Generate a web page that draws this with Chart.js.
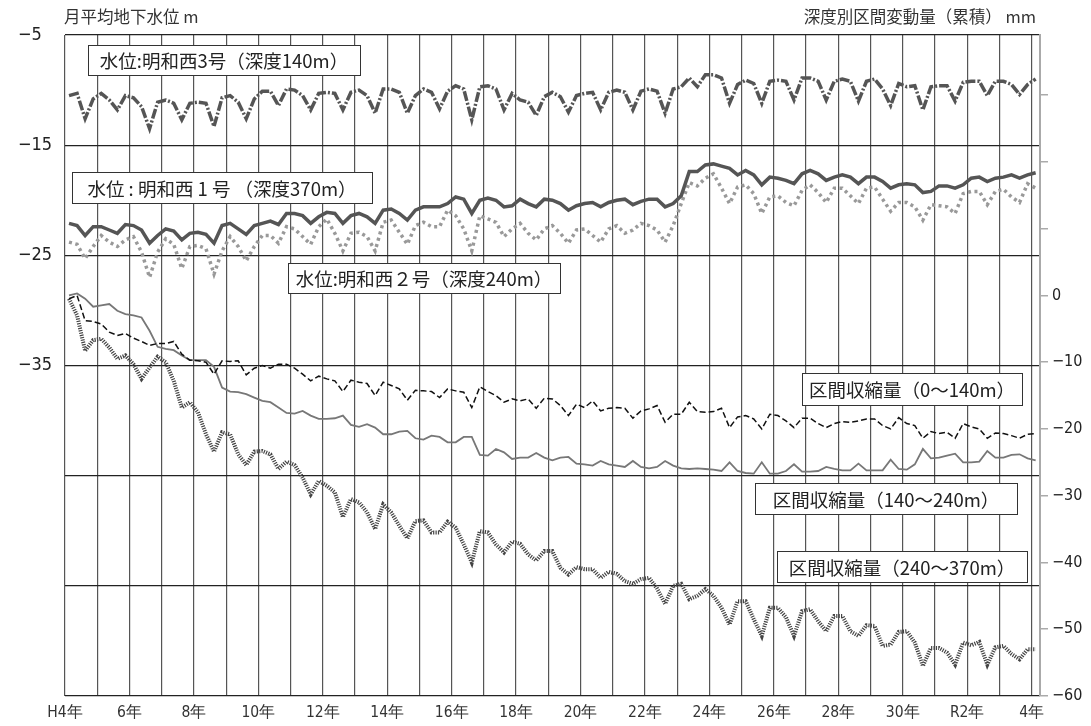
<!DOCTYPE html>
<html>
<head>
<meta charset="utf-8">
<script src="https://cdn.jsdelivr.net/npm/chart.js@4.4.0/dist/chart.umd.min.js"></script>
<style>
  html, body { margin: 0; padding: 0; background: #fff; }
  #chartCanvas { display: block; }
</style>
</head>
<body>
<canvas id="chartCanvas" width="1091" height="726"></canvas>
<script>
// --- Data ---

// quarterly readings, mid-quarter, H4 (1992) .. R4 (2022) start
const times = [];
for (let i = 0; i < 121; i++) times.push(1992.125 + 0.25 * i);

// 水位 明和西3号 (m)
const meiwa3 = [
  -10.5, -10.3, -12.6, -10.8,  -10.3, -10.9, -11.8, -10.5,  -10.7, -11.5, -13.5, -11.1,
  -10.9, -11.2, -12.7, -11.2,  -11.1, -11.2, -13.3, -10.7,  -10.5, -11.1, -12.6, -10.8,
  -10.1, -10.1, -11.4, -9.9,   -10.0, -10.5, -11.8, -10.3,  -10.2, -10.3, -11.8, -10.2,
  -10.0, -10.5, -12.1, -9.9,   -9.9, -10.2, -12.1, -10.5,   -9.9, -10.2, -11.7, -10.1,
  -9.6, -9.9, -12.7, -9.7,     -9.6, -9.9, -11.8, -10.3,    -10.9, -11.1, -12.3, -10.6,
  -10.2, -10.6, -12.0, -10.5,  -10.3, -10.2, -11.8, -10.2,  -10.0, -10.2, -11.8, -10.1,
  -9.9, -10.1, -12.1, -9.9,    -9.7, -8.9, -9.7, -8.6,      -8.6, -8.9, -11.2, -9.5,
  -9.1, -9.4, -11.2, -9.2,     -9.1, -9.2, -10.9, -8.9,     -8.9, -9.2, -10.9, -9.2,
  -9.0, -9.2, -11.0, -9.2,     -9.0, -9.9, -11.4, -9.4,     -9.7, -9.6, -11.8, -9.7,
  -9.6, -9.6, -11.0, -9.3,     -9.2, -9.2, -10.5, -9.2,     -9.2, -9.5, -10.4, -9.5,
  -9.0
];

// 水位 明和西1号 (m)
const meiwa1 = [
  -22.1, -22.3, -23.2, -22.4,  -22.4, -22.7, -23.0, -22.2,  -22.3, -22.7, -23.9, -23.2,
  -22.6, -22.8, -23.6, -23.0,  -22.9, -23.1, -23.9, -22.3,  -22.1, -22.6, -23.1, -22.3,
  -22.1, -21.9, -22.2, -21.2,  -21.2, -21.4, -22.1, -21.5,  -21.1, -21.2, -22.1, -21.4,
  -21.2, -21.5, -22.1, -20.9,  -20.8, -21.2, -21.8, -20.9,  -20.6, -20.6, -20.6, -20.3,
  -19.7, -19.9, -21.2, -20.0,  -19.8, -20.0, -20.6, -20.5,  -19.9, -20.3, -20.6, -19.9,
  -20.0, -20.3, -20.9, -20.5,  -20.3, -20.2, -20.6, -20.2,  -20.0, -19.9, -20.4, -20.1,
  -19.9, -19.9, -20.6, -20.3,  -19.6, -17.4, -17.4, -16.8,  -16.7, -16.9, -17.1, -17.7,
  -17.3, -17.7, -18.6, -17.9,  -18.0, -18.2, -18.5, -17.6,  -17.3, -17.6, -18.2, -17.9,
  -17.7, -17.9, -18.5, -17.9,  -17.9, -18.3, -18.9, -18.6,  -18.5, -18.6, -19.3, -19.2,
  -18.7, -18.7, -18.9, -18.6,  -18.0, -17.9, -18.3, -18.0,  -17.9, -17.7, -18.0, -17.7,
  -17.5
];

// 水位 明和西2号 (m)
const meiwa2 = [
  -23.8, -24.0, -25.3, -24.2,  -23.2, -23.8, -24.2, -23.6,  -23.3, -24.7, -27.0, -24.7,
  -23.5, -24.0, -26.2, -24.2,  -24.1, -24.4, -26.7, -24.6,  -23.3, -24.2, -25.5, -24.2,
  -23.2, -23.2, -23.9, -22.4,  -22.6, -23.3, -24.0, -22.4,  -21.7, -23.0, -24.6, -23.0,
  -22.9, -23.3, -24.6, -22.0,  -21.8, -22.9, -24.0, -22.3,  -22.0, -22.4, -22.4, -20.9,
  -21.4, -22.6, -24.6, -21.4,  -21.7, -22.0, -23.3, -22.6,  -22.1, -23.0, -23.6, -22.6,
  -22.3, -23.0, -23.9, -22.7,  -22.6, -23.2, -23.8, -22.6,  -22.3, -23.0, -22.7, -22.1,
  -22.3, -22.7, -23.8, -22.3,  -20.3, -18.4, -18.7, -18.0,  -17.6, -18.9, -20.3, -18.8,
  -18.6, -19.4, -21.2, -19.7,  -19.6, -20.2, -20.5, -19.1,  -18.6, -19.3, -20.2, -18.9,
  -18.9, -19.6, -20.3, -18.9,  -18.8, -19.9, -21.0, -20.2,  -20.2, -20.6, -21.8, -20.4,
  -20.5, -20.6, -21.2, -19.4,  -19.2, -19.2, -20.4, -19.2,  -19.0, -19.7, -20.2, -18.5,
  -18.9
];

// 区間収縮量 0〜140m (mm, cumulative)
const shrink0140 = [
  -0.5, 0.0, -3.8, -3.9,       -4.3, -5.5, -6.0, -5.7,      -6.4, -6.9, -7.5, -7.2,
  -7.2, -6.9, -8.8, -9.7,      -9.8, -10.0, -11.8, -9.8,    -9.9, -9.8, -11.9, -10.9,
  -10.5, -10.9, -10.3, -10.3,  -10.9, -11.8, -12.8, -12.1,  -12.5, -12.8, -14.4, -12.7,
  -13.0, -13.2, -15.0, -13.0,  -13.5, -14.0, -15.7, -14.2,  -14.3, -14.4, -15.3, -14.0,
  -14.3, -14.5, -16.8, -13.7,  -14.4, -15.0, -16.0, -15.5,  -15.8, -15.5, -16.9, -15.4,
  -15.5, -16.5, -18.0, -16.3,  -16.8, -15.8, -17.3, -16.9,  -16.8, -16.9, -18.4, -17.3,
  -17.0, -16.5, -19.0, -17.8,  -17.8, -16.0, -17.4, -17.5,  -17.4, -16.9, -19.8, -18.2,
  -18.0, -18.5, -20.0, -17.8,  -18.0, -18.8, -19.8, -18.4,  -18.4, -19.2, -19.8, -19.2,
  -18.9, -19.0, -18.8, -18.5,  -18.5, -19.5, -20.0, -18.3,  -19.2, -19.5, -21.4, -20.4,
  -20.7, -20.5, -21.4, -19.2,  -19.7, -20.0, -21.4, -20.6,  -20.7, -21.0, -21.4, -20.8,
  -20.7
];

// 区間収縮量 140〜240m (mm, cumulative)
const shrink140240 = [
  0.0, 0.3, -0.5, -1.7,        -1.5, -1.3, -2.3, -2.8,      -3.0, -3.3, -5.3, -7.7,
  -8.0, -8.2, -9.0, -9.7,      -9.7, -9.7, -10.7, -13.8,    -14.4, -14.5, -14.8, -15.3,
  -15.8, -16.0, -16.8, -17.6,  -17.7, -17.3, -18.0, -18.5,  -18.5, -18.4, -18.0, -19.4,
  -19.7, -19.3, -19.8, -20.8,  -20.8, -20.4, -20.3, -21.4,  -21.6, -21.0, -21.2, -22.0,
  -22.0, -21.2, -21.2, -23.9,  -24.0, -23.0, -23.5, -24.5,  -24.3, -24.3, -23.6, -24.3,
  -24.7, -24.3, -24.2, -25.2,  -25.3, -25.5, -24.8, -25.3,  -25.5, -25.7, -24.8, -25.7,
  -25.9, -25.7, -24.8, -25.5,  -25.9, -26.0, -25.9, -26.0,  -26.1, -26.3, -25.0, -26.3,
  -26.6, -26.7, -25.0, -26.7,  -26.7, -26.3, -25.3, -26.4,  -26.4, -26.3, -25.7, -26.0,
  -26.2, -26.2, -25.2, -26.2,  -26.2, -26.2, -24.6, -26.0,  -26.1, -25.3, -23.0, -24.4,
  -24.3, -24.0, -23.7, -25.0,  -25.0, -24.9, -23.3, -24.3,  -24.3, -23.9, -23.8, -24.4,
  -24.7
];

// 区間収縮量 240〜370m (mm, cumulative)
const shrink240370 = [
  -0.5, -3.0, -8.3, -6.7,      -6.5, -7.8, -9.5, -9.0,      -10.3, -12.5, -10.8, -9.2,
  -10.0, -12.8, -16.8, -16.0,  -17.5, -20.8, -23.4, -20.5,  -20.8, -23.8, -25.4, -23.4,
  -23.3, -23.8, -26.0, -24.9,  -25.4, -27.3, -29.8, -27.8,  -28.5, -29.5, -33.2, -30.5,
  -31.0, -32.5, -35.0, -31.3,  -32.5, -34.5, -36.4, -33.8,  -33.7, -35.5, -35.5, -33.9,
  -34.8, -37.3, -40.0, -35.3,  -35.5, -37.3, -38.5, -36.9,  -37.2, -38.8, -39.7, -38.3,
  -38.3, -40.8, -41.8, -40.7,  -41.0, -41.0, -42.3, -41.4,  -41.7, -42.8, -43.2, -42.5,
  -42.3, -43.9, -46.2, -43.5,  -43.2, -45.5, -45.0, -44.0,  -45.0, -46.8, -49.3, -45.8,
  -45.8, -48.5, -51.0, -46.8,  -46.8, -48.2, -51.0, -47.3,  -47.0, -48.8, -50.3, -48.0,
  -48.0, -50.3, -51.0, -49.4,  -49.5, -52.5, -52.3, -50.4,  -50.3, -52.0, -55.5, -52.8,
  -52.8, -53.5, -55.3, -52.0,  -52.4, -51.9, -55.3, -52.7,  -52.5, -53.7, -54.5, -53.0,
  -53.0
];

// x tick labels (every 2 years)
const yearLabels = {
  1992: 'H4年', 1994: '6年', 1996: '8年', 1998: '10年', 2000: '12年', 2002: '14年',
  2004: '16年', 2006: '18年', 2008: '20年', 2010: '22年', 2012: '24年', 2014: '26年',
  2016: '28年', 2018: '30年', 2020: 'R2年', 2022: '4年'
};

// label boxes drawn over the plot
const boxes = [
  { text: '水位:明和西3号（深度140m）', x: 88, y: 45, w: 272, h: 30 },
  { text: '水位 : 明和西 1 号 （深度370m）', x: 72, y: 172, w: 300, h: 31 },
  { text: '水位:明和西２号（深度240m）', x: 288, y: 263, w: 272, h: 30 },
  { text: '区間収縮量（0〜140m）', x: 802, y: 373, w: 220, h: 32 },
  { text: '区間収縮量（140〜240m）', x: 755, y: 483, w: 262, h: 31 },
  { text: '区間収縮量（240〜370m）', x: 777, y: 551, w: 250, h: 31 }
];

const CJK = "'Noto Sans CJK JP', 'Noto Sans', sans-serif";
const NUM = "'Liberation Sans Narrow', 'DejaVu Sans Condensed', 'Liberation Sans', sans-serif";

function toPoints(values) {
    return values.map((v, i) => ({ x: times[i], y: v }));
}

function minus(v) {
    return v < 0 ? '\u2212' + Math.abs(v) : String(v);
}

// --- Plugins ---

const titlePlugin = {
    id: 'axisTitles',
    afterDraw(chart) {
        const ctx = chart.ctx;
        ctx.save();
        ctx.fillStyle = '#333';
        ctx.font = '16.5px ' + CJK;
        ctx.textBaseline = 'middle';
        ctx.textAlign = 'left';
        ctx.fillText('月平均地下水位 m', 64, 17);
        ctx.textAlign = 'right';
        ctx.fillText('深度別区間変動量（累積） mm', 1036, 17);
        ctx.restore();
    }
};

const boxPlugin = {
    id: 'labelBoxes',
    afterDatasetsDraw(chart) {
        const ctx = chart.ctx;
        ctx.save();
        boxes.forEach(b => {
            ctx.fillStyle = '#fff';
            ctx.fillRect(b.x, b.y, b.w, b.h);
            ctx.strokeStyle = '#333';
            ctx.lineWidth = 1;
            ctx.strokeRect(b.x + 0.5, b.y + 0.5, b.w, b.h);
            ctx.fillStyle = '#222';
            ctx.font = '18.5px ' + CJK;
            ctx.textAlign = 'center';
            ctx.textBaseline = 'middle';
            ctx.fillText(b.text, b.x + b.w / 2, b.y + b.h / 2 + 1);
        });
        ctx.restore();
    }
};

// --- Chart ---

const canvas = document.getElementById('chartCanvas');

new Chart(canvas, {
    type: 'line',
    data: {
        datasets: [
            {
                label: '明和西3号',
                data: toPoints(meiwa3),
                yAxisID: 'y',
                borderColor: '#555',
                borderWidth: 3.5,
                borderDash: [10, 2, 2, 2]
            },
            {
                label: '明和西1号',
                data: toPoints(meiwa1),
                yAxisID: 'y',
                borderColor: '#555',
                borderWidth: 3.5
            },
            {
                label: '明和西2号',
                data: toPoints(meiwa2),
                yAxisID: 'y',
                borderColor: '#999',
                borderWidth: 3.5,
                borderDash: [3, 3.5]
            },
            {
                label: '0〜140m',
                data: toPoints(shrink0140),
                yAxisID: 'y2',
                borderColor: '#111',
                borderWidth: 1.5,
                borderDash: [6, 3]
            },
            {
                label: '140〜240m',
                data: toPoints(shrink140240),
                yAxisID: 'y2',
                borderColor: '#777',
                borderWidth: 1.8
            },
            {
                label: '240〜370m',
                data: toPoints(shrink240370),
                yAxisID: 'y2',
                borderColor: '#444',
                borderWidth: 4,
                borderDash: [1.2, 1.2]
            }
        ]
    },
    options: {
        responsive: false,
        animation: false,
        layout: { padding: { top: 35, left: 18, right: 0, bottom: 0 } },
        elements: {
            point: { radius: 0 },
            line: { tension: 0, fill: false, borderCapStyle: 'butt' }
        },
        plugins: {
            legend: { display: false },
            title: { display: false },
            tooltip: { enabled: false }
        },
        scales: {
            x: {
                type: 'linear',
                min: 1992,
                max: 2022.26,
                afterFit: s => { s.height = 30; },
                border: { display: false },
                grid: { color: '#555', lineWidth: 1.2, drawTicks: false },
                ticks: {
                    stepSize: 1,
                    includeBounds: false,
                    autoSkip: false,
                    maxRotation: 0,
                    padding: 8,
                    color: '#333',
                    font: { size: 15.5, family: NUM },
                    callback: v => yearLabels[v] || ''
                }
            },
            y: {
                position: 'left',
                min: -65,
                max: -5,
                afterFit: s => { s.width = 47; },
                border: { display: false },
                grid: { color: '#222', lineWidth: 1.3, drawTicks: false },
                ticks: {
                    stepSize: 10,
                    crossAlign: 'far',
                    color: '#222',
                    font: { size: 18, family: NUM },
                    callback: v => (v >= -35 ? minus(v) : '')
                }
            },
            y2: {
                position: 'right',
                min: -60,
                max: 39,
                afterFit: s => { s.width = 51; },
                border: { display: true, color: '#aaa', width: 2 },
                grid: { drawOnChartArea: false, color: '#aaa', lineWidth: 1.5, tickLength: 8 },
                ticks: {
                    stepSize: 10,
                    includeBounds: false,
                    padding: 4,
                    color: '#222',
                    font: { size: 16, family: NUM },
                    callback: v => (v <= 0 ? minus(v) : '')
                }
            }
        }
    },
    plugins: [titlePlugin, boxPlugin]
});
</script>
</body>
</html>
